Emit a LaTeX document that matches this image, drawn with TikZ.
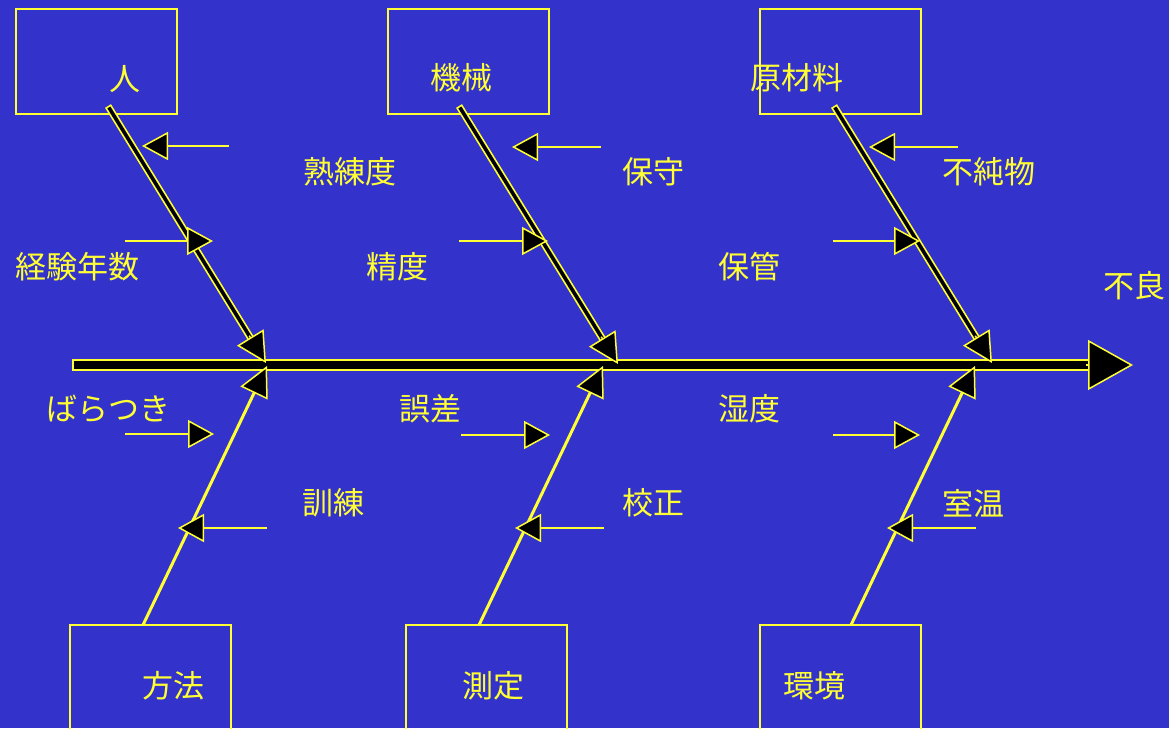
\documentclass[tikz,border=0pt]{standalone}
\usepackage{fontspec}
\newfontfamily\jp{Noto Sans CJK JP}
\usetikzlibrary{arrows.meta,calc}
\definecolor{bg}{RGB}{51,51,204}
\definecolor{yl}{RGB}{255,255,51}
\begin{document}
\begin{tikzpicture}[x=1pt,y=-1pt,
  box/.style={draw=yl,line width=2pt,inner sep=0pt,minimum width=161pt},
  lbl/.style={text=yl,font=\jp\fontsize{31}{31}\selectfont,inner sep=0pt},
  bonetip/.style={draw=yl,line width=1.5pt,-{Triangle[length=30pt,width=31pt,fill=black]}},
  lowbone/.style={draw=yl,line width=3pt,-{Triangle[length=30pt,width=30pt,fill=black,line width=1.5pt]}},
  smallarr/.style={draw=yl,line width=2pt,-{Triangle[length=26pt,width=28pt,fill=black,line width=1.5pt]}},
  outerline/.style={draw=yl,line width=7pt,shorten >=25pt},
  innerline/.style={draw=black,line width=3.6pt,shorten >=25pt,shorten <=1.7pt}]
\path[use as bounding box,fill=bg] (0,0) rectangle (1169,728);
\clip (0,0) rectangle (1169,728);

% boxes
\node[box,minimum height=105pt] (bman) at (96.5,61.5) {};
\node[box,minimum height=105pt] (bmach) at (468.5,61.5) {};
\node[box,minimum height=105pt] (bmat) at (840,61.5) {};
\node[box,minimum height=140pt] (bmeth) at (150,695) {};
\node[box,minimum height=140pt] (bmeas) at (486.5,695) {};
\node[box,minimum height=140pt] (benv) at (840,695) {};

% box labels
\node[lbl] (tman) at (125,79) {人};
\node[lbl] (tmach) at (461,78) {機械};
\node[lbl] (tmat) at (797,78) {原材料};
\node[lbl] (tmeth) at (173,686) {方法};
\node[lbl] (tmeas) at (493,686) {測定};
\node[lbl] (tenv) at (814,686) {環境};

% coordinates
\coordinate (sp0) at (72,365);
\coordinate (sp1) at (1133,365);
\coordinate (u1s) at (108,106); \coordinate (u1t) at (266,363);
\coordinate (u2s) at (459,106); \coordinate (u2t) at (618,364);
\coordinate (u3s) at (834,106); \coordinate (u3t) at (992,363);
\coordinate (l1s) at (143,625); \coordinate (l1t) at (267,366);
\coordinate (l2s) at (479,625); \coordinate (l2t) at (603,366);
\coordinate (l3s) at (851,625); \coordinate (l3t) at (975,366);

% spine
\draw[draw=yl,line width=12pt,shorten >=40pt] (sp0) -- (sp1);
\draw[draw=black,line width=8.4pt,shorten >=40pt,shorten <=1.8pt] (sp0) -- (sp1);
\draw[draw=yl,line width=1.5pt,-{Triangle[length=45pt,width=50pt,fill=black]}] ($(sp1)+(-47,0)$) -- (sp1);

% upper bones
\foreach \s/\t in {u1s/u1t,u2s/u2t,u3s/u3t}{
  \draw[outerline] (\s) -- (\t);
  \draw[innerline] (\s) -- (\t);
  \draw[bonetip] ($(\t)!32pt!(\s)$) -- (\t);
}

% lower bones
\draw[lowbone] (l1s) -- (l1t);
\draw[lowbone] (l2s) -- (l2t);
\draw[lowbone] (l3s) -- (l3t);

% small arrows
\coordinate (a1s) at (229,146); \coordinate (a1t) at (142,146);
\coordinate (a2s) at (125,241); \coordinate (a2t) at (213,241);
\coordinate (a3s) at (601,147); \coordinate (a3t) at (512,147);
\coordinate (a4s) at (459,241); \coordinate (a4t) at (548,241);
\coordinate (a5s) at (958,147); \coordinate (a5t) at (869,147);
\coordinate (a6s) at (833,241); \coordinate (a6t) at (920,241);
\coordinate (b1s) at (125,434); \coordinate (b1t) at (214,434);
\coordinate (b2s) at (267,528); \coordinate (b2t) at (178,528);
\coordinate (b3s) at (461,435); \coordinate (b3t) at (550,435);
\coordinate (b4s) at (604,528); \coordinate (b4t) at (515,528);
\coordinate (b5s) at (833,435); \coordinate (b5t) at (920,435);
\coordinate (b6s) at (976,528); \coordinate (b6t) at (887,528);
\foreach \n in {a1,a2,a3,a4,a5,a6,b1,b2,b3,b4,b5,b6}{
  \draw[smallarr] (\n s) -- (\n t);
}

% cause labels
\node[lbl] (c1) at (349.5,172) {熟練度};
\node[lbl] (c2) at (77,267) {経験年数};
\node[lbl] (c3) at (653,172) {保守};
\node[lbl] (c4) at (397,267) {精度};
\node[lbl] (c5) at (989,172) {不純物};
\node[lbl] (c6) at (749,267) {保管};
\node[lbl] (eff) at (1134,286) {不良};
\node[lbl] (d1) at (108,409) {ばらつき};
\node[lbl] (d2) at (430,409) {誤差};
\node[lbl] (d3) at (749,409) {湿度};
\node[lbl] (d4) at (333,503) {訓練};
\node[lbl] (d5) at (653,503) {校正};
\node[lbl] (d6) at (973,503) {室温};
\end{tikzpicture}
\end{document}
